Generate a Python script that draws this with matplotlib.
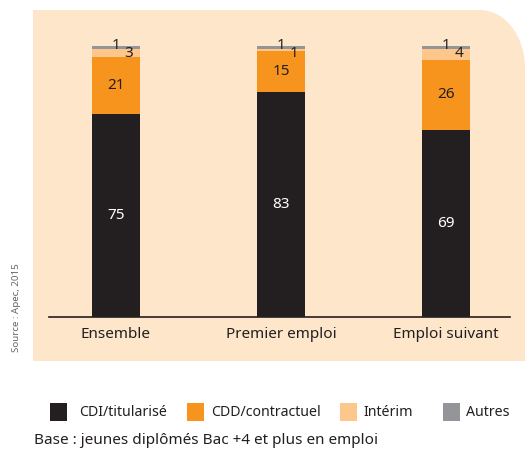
import numpy as np
import matplotlib
matplotlib.use("Agg")
import matplotlib.pyplot as plt
from matplotlib.patches import Polygon, Rectangle

categories = ["Ensemble", "Premier emploi", "Emploi suivant"]
series_names = ["CDI/titularisé", "CDD/contractuel", "Intérim", "Autres"]
cdi = [75, 83, 69]
cdd = [21, 15, 26]
interim = [3, 1, 4]
autres = [1, 1, 1]
values = [cdi, cdd, interim, autres]
colors = ["#231f20", "#f7941d", "#fdc68a", "#939598"]
bg_color = "#fee6cb"
text_dark = "#231f20"

plt.rcParams['font.family'] = ['Noto Sans', 'DejaVu Sans']

W, H = 525, 450
fig = plt.figure(figsize=(W / 100, H / 100), dpi=100)

# background canvas in pixel coordinates
bg = fig.add_axes([0, 0, 1, 1], zorder=0)
bg.set_xlim(0, W)
bg.set_ylim(H, 0)
bg.axis("off")
rx, ry = 45, 58
t = np.linspace(np.pi / 2, 0, 30)
arc = np.column_stack([W - rx + rx * np.cos(t), 10 + ry - ry * np.sin(t)])
pts = np.vstack([[33, 361], [33, 10], arc, [W, 361]])
bg.add_patch(Polygon(pts, closed=True, facecolor=bg_color, edgecolor="none"))

# main axes
ax = fig.add_axes([49 / W, 1 - 317 / H, (510 - 49) / W, (317 - 20) / H], zorder=1)
ax.set_facecolor("none")
x = np.arange(len(categories))
ax.set_xlim(-0.406, 2.388)
ax.set_ylim(0, 109.6)
bw = 0.29
bottom = np.zeros(len(categories))
for vals, col in zip(values, colors):
    ax.bar(x, vals, bw, bottom=bottom, color=col, edgecolor="none")
    bottom += np.array(vals)

# labels
fs = 11
for i in range(len(categories)):
    ax.text(x[i], cdi[i] / 2, str(cdi[i]), ha="center", va="center",
            color="white", fontsize=fs)
    ax.text(x[i], cdi[i] + cdd[i] / 2, str(cdd[i]), ha="center", va="center",
            color=text_dark, fontsize=fs)
    top = cdi[i] + cdd[i] + interim[i] + autres[i]
    ax.annotate(str(autres[i]), (x[i], top), xytext=(0, 0.5), textcoords="offset points",
                ha="center", va="center", color=text_dark, fontsize=fs)
    ax.annotate(str(interim[i]), (x[i], top), xytext=(9.5, -5.5), textcoords="offset points",
                ha="center", va="center", color=text_dark, fontsize=fs)

for s in ["top", "right", "left"]:
    ax.spines[s].set_visible(False)
ax.spines["bottom"].set_color(text_dark)
ax.spines["bottom"].set_linewidth(1.2)
ax.set_yticks([])
ax.set_xticks(x)
ax.set_xticklabels(categories, fontsize=11, color=text_dark)
ax.tick_params(axis="x", length=0, pad=7)

# legend (manual)
leg_sq = [50, 187, 340, 443]
leg_tx = [79, 211, 363, 466]
for name, col, sx, tx in zip(series_names, colors, leg_sq, leg_tx):
    bg.add_patch(Rectangle((sx, 403), 17, 18, facecolor=col, edgecolor="none"))
    bg.text(tx, 412, name, ha="left", va="center", fontsize=10.2, color=text_dark)

bg.text(34, 440, "Base : jeunes diplômés Bac +4 et plus en emploi", ha="left",
        va="center", fontsize=11, color=text_dark)
bg.text(17, 352, "Source : Apec, 2015", rotation=90, ha="center", va="bottom",
        fontsize=7, color="#666666")

fig.savefig("out.png", dpi=100)
